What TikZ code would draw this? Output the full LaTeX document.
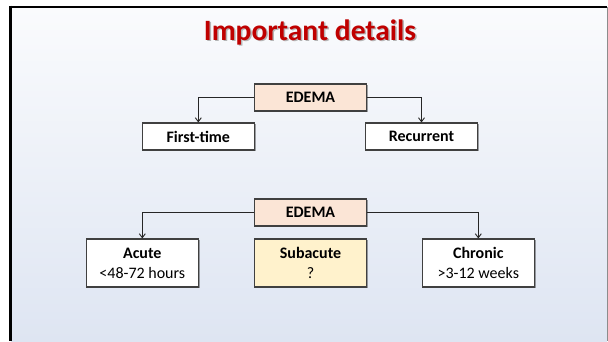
\documentclass[tikz,border=0pt]{standalone}
\usepackage{fontspec}
\setmainfont{Carlito}
\usetikzlibrary{arrows.meta,shadows}
\definecolor{titlered}{HTML}{C00000}
\definecolor{peach}{HTML}{FBE5D6}
\definecolor{gold}{HTML}{FFF2CC}
\definecolor{bgtop}{HTML}{FAFBFD}
\definecolor{bgbot}{HTML}{DEE5F2}
\definecolor{boxline}{HTML}{404040}
\tikzset{
  box/.style={draw=boxline, line width=1.1pt, minimum width=112.5pt, align=center,
    inner sep=0pt, font=\fontsize{16}{20}\selectfont,
    drop shadow={shadow xshift=1.2pt, shadow yshift=-1.2pt, opacity=0.35, fill=black}},
  onebox/.style={box, minimum height=27pt},
  twobox/.style={box, minimum height=48pt},
  link/.style={draw=black!85, line width=0.9pt, -{Straight Barb[length=4pt,width=6pt]}}
}
\begin{document}
\begin{tikzpicture}[x=1pt,y=-1pt]
\useasboundingbox (0,0) rectangle (608,341);
\fill[white] (0,0) rectangle (608,341);
\shade[top color=bgtop, bottom color=bgbot] (11,7) rectangle (607,341);
\draw[black, line width=2pt] (9,6.5) -- (607,6.5);
\draw[black, line width=3pt] (10.5,5.5) -- (10.5,341);
\draw[black!45, line width=1pt] (607,7) -- (607,341);
% title
\node[text=black!40, font=\fontsize{29.5}{34}\selectfont\bfseries, opacity=0.7] (tshadow) at (311.5,33.5) {Important details};
\node[text=titlered, font=\fontsize{29.5}{34}\selectfont\bfseries] (title) at (310,32) {Important details};
% top tree
\node[onebox, fill=peach] (e1) at (310.5,97.5) {\bfseries EDEMA};
\node[onebox, fill=white] (first) at (198.3,136.5) {\bfseries First-time};
\node[onebox, fill=white] (rec) at (421.5,136.5) {\bfseries Recurrent};
\draw[link] (e1.west) -| (first.north);
\draw[link] (e1.east) -| (rec.north);
% bottom tree
\node[onebox, fill=peach] (e2) at (310.5,212.5) {\bfseries EDEMA};
\node[twobox, fill=white] (acute) at (142.3,263) {\textbf{Acute}\\<48-72 hours};
\node[twobox, fill=gold] (sub) at (310.5,263) {\textbf{Subacute}\\?};
\node[twobox, fill=white] (chr) at (478.3,263) {\textbf{Chronic}\\>3-12 weeks};
\draw[link] (e2.west) -| (acute.north);
\draw[link] (e2.east) -| (chr.north);
\end{tikzpicture}
\end{document}
